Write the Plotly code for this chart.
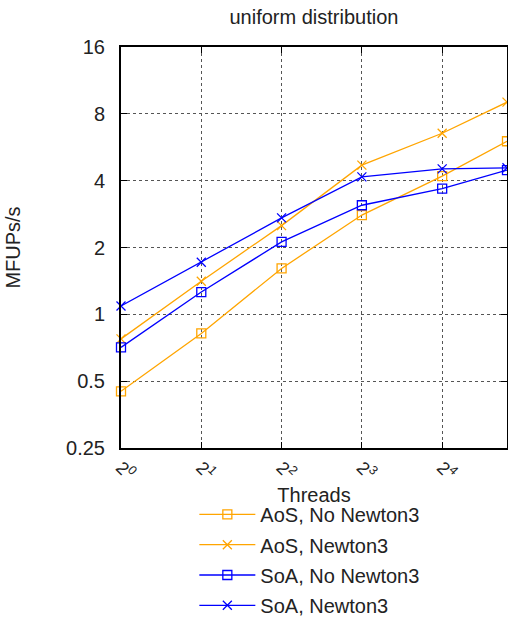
import plotly.graph_objects as go

# Thread counts and measured throughput (MFUPs/s)
threads = [1, 2, 4, 8, 16, 28]
aos_no_newton3 = [0.45, 0.82, 1.61, 2.80, 4.19, 6.02]
aos_newton3 = [0.775, 1.41, 2.51, 4.70, 6.54, 9.03]
soa_no_newton3 = [0.71, 1.26, 2.12, 3.10, 3.68, 4.46]
soa_newton3 = [1.09, 1.715, 2.72, 4.16, 4.52, 4.57]

x_tick_vals = [1, 2, 4, 8, 16]
x_tick_text = ["2<sup>0</sup>", "2<sup>1</sup>", "2<sup>2</sup>", "2<sup>3</sup>", "2<sup>4</sup>"]
y_tick_vals = [0.25, 0.5, 1, 2, 4, 8, 16]
y_tick_text = ["0.25", "0.5", "1", "2", "4", "8", "16"]

ORANGE = "#FFA500"
BLUE = "#0000FF"
FONT = "Liberation Sans, Arial, sans-serif"

series = [
    ("AoS, No Newton3", aos_no_newton3, ORANGE, "square-open"),
    ("AoS, Newton3", aos_newton3, ORANGE, "x-thin"),
    ("SoA, No Newton3", soa_no_newton3, BLUE, "square-open"),
    ("SoA, Newton3", soa_newton3, BLUE, "x-thin"),
]

fig = go.Figure()
for i, (name, vals, color, symbol) in enumerate(series):
    fig.add_trace(go.Scatter(
        x=threads, y=vals, name=name, mode="lines+markers",
        legendgroup=f"g{i}",
        line=dict(color=color, width=1.3),
        marker=dict(symbol=symbol, size=9, color=color,
                    line=dict(color=color, width=1.3)),
        cliponaxis=False,
    ))

axis_common = dict(
    showline=True, linecolor="black", linewidth=2, mirror="ticks",
    ticks="inside", ticklen=6, tickcolor="black", tickwidth=1,
    showgrid=True, gridcolor="#555555", griddash="dot", gridwidth=1,
    zeroline=False, automargin=False,
)

fig.update_layout(
    width=508, height=619,
    margin=dict(l=121, r=1, t=47, b=171, autoexpand=False),
    paper_bgcolor="white", plot_bgcolor="white",
    font=dict(family=FONT, size=20, color="#222222"),
    title=dict(text="uniform distribution", x=0.618, xanchor="center",
               y=0.972, yanchor="middle", font=dict(size=20)),
    xaxis=dict(type="log", range=[0, 1.4472], tickvals=x_tick_vals,
               ticktext=x_tick_text, tickangle=45, tickfont=dict(size=18),
               title=dict(text="Threads", standoff=0, font=dict(size=20)),
               **axis_common),
    yaxis=dict(type="log", range=[-0.60206, 1.20412], tickvals=y_tick_vals,
               ticktext=y_tick_text, tickfont=dict(size=20),
               ticklabelstandoff=10,
               title=dict(text="MFUPs/s", standoff=40, font=dict(size=20)),
               **axis_common),
    showlegend=True,
    legend=dict(x=0.19, y=-0.117, xanchor="left", yanchor="top",
                font=dict(size=20), bgcolor="rgba(0,0,0,0)",
                itemwidth=56, traceorder="grouped", tracegroupgap=1.3),
)

fig.write_html("out.html")
